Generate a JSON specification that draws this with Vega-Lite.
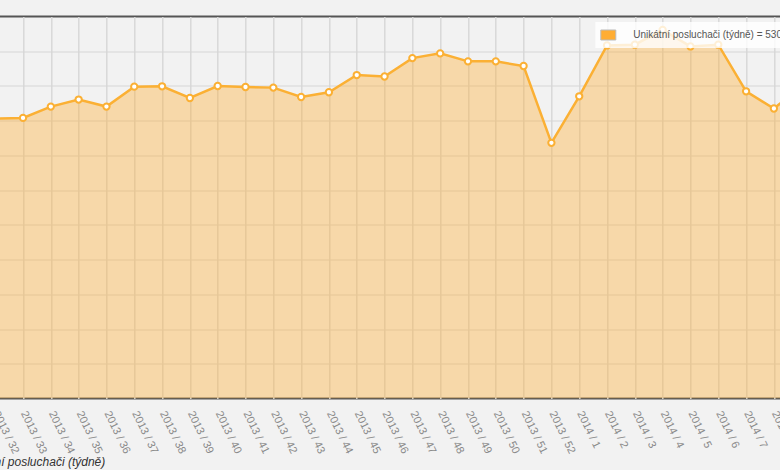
{
  "$schema": "https://vega.github.io/schema/vega-lite/v6.json",
  "autosize": {"type": "none"},
  "width": 834.3,
  "height": 382,
  "padding": {"left": -18.7, "top": 16.5, "right": -35.6, "bottom": 71.5},
  "background": "#f2f2f2",
  "config": {
    "view": {"stroke": "#555555", "strokeWidth": 2, "fill": "#f2f2f2"},
    "font": "Liberation Sans"
  },
  "data": {
    "values": [
      {"week": "2013 / 32", "v": 4028},
      {"week": "2013 / 33", "v": 4040},
      {"week": "2013 / 34", "v": 4203},
      {"week": "2013 / 35", "v": 4304},
      {"week": "2013 / 36", "v": 4203},
      {"week": "2013 / 37", "v": 4490},
      {"week": "2013 / 38", "v": 4495},
      {"week": "2013 / 39", "v": 4327},
      {"week": "2013 / 40", "v": 4499},
      {"week": "2013 / 41", "v": 4485},
      {"week": "2013 / 42", "v": 4476},
      {"week": "2013 / 43", "v": 4341},
      {"week": "2013 / 44", "v": 4409},
      {"week": "2013 / 45", "v": 4657},
      {"week": "2013 / 46", "v": 4636},
      {"week": "2013 / 47", "v": 4901},
      {"week": "2013 / 48", "v": 4969},
      {"week": "2013 / 49", "v": 4854},
      {"week": "2013 / 50", "v": 4854},
      {"week": "2013 / 51", "v": 4787},
      {"week": "2013 / 52", "v": 3681},
      {"week": "2014 / 1", "v": 4351},
      {"week": "2014 / 2", "v": 5083},
      {"week": "2014 / 3", "v": 5094},
      {"week": "2014 / 4", "v": 5306},
      {"week": "2014 / 5", "v": 5069},
      {"week": "2014 / 6", "v": 5094},
      {"week": "2014 / 7", "v": 4423},
      {"week": "2014 / 8", "v": 4175},
      {"week": "2014 / 9", "v": 4500}
    ]
  },
  "encoding": {
    "x": {
      "field": "week",
      "type": "ordinal",
      "sort": null,
      "scale": {"type": "point", "padding": 0.5},
      "axis": {
        "title": "Unikátní posluchači (týdně)",
        "titleAnchor": "start",
        "titleAlign": "left",
        "titleBaseline": "alphabetic",
        "titleX": -21.3,
        "titleY": 67,
        "titleFontStyle": "italic",
        "titleFontWeight": "normal",
        "titleFontSize": 12,
        "titleColor": "#333333",
        "labelAngle": 64,
        "labelAlign": "left",
        "labelBaseline": "middle",
        "labelPadding": 13,
        "labelFontSize": 11,
        "labelColor": "#8a8a8a",
        "labelOverlap": false,
        "ticks": false,
        "domain": false,
        "grid": true,
        "gridColor": "#d8d8d8",
        "gridWidth": 1.5
      }
    },
    "y": {
      "field": "v",
      "type": "quantitative",
      "scale": {"domain": [0, 5500], "nice": false, "zero": true},
      "axis": {
        "title": null,
        "labels": false,
        "ticks": false,
        "domain": false,
        "grid": true,
        "gridColor": "#d6d6d6",
        "gridWidth": 1,
        "values": [500, 1000, 1500, 2000, 2500, 3000, 3500, 4000, 4500, 5000]
      }
    }
  },
  "layer": [
    {
      "mark": {"type": "area", "fillOpacity": 0.38, "clip": true},
      "encoding": {
        "color": {
          "datum": "Unikátní posluchači (týdně) = 5306",
          "type": "nominal",
          "scale": {"range": ["#ffad33"]},
          "legend": {
            "title": null,
            "orient": "none",
            "legendX": 614,
            "legendY": 5.5,
            "padding": 5,
            "fillColor": "rgba(255,255,255,0.8)",
            "strokeColor": null,
            "symbolType": "M-1,-0.667H1V0.667H-1Z",
            "symbolSize": 225,
            "symbolOpacity": 1,
            "symbolFillColor": "#fbb034",
            "symbolStrokeColor": "#bbbbbb",
            "symbolStrokeWidth": 1,
            "labelOffset": 17,
            "labelFontSize": 10,
            "labelColor": "#555555",
            "labelLimit": 400
          }
        }
      }
    },
    {
      "mark": {"type": "line", "color": "#fbb034", "strokeWidth": 2.5, "clip": true}
    },
    {
      "mark": {"type": "point", "filled": true, "fill": "#ffffff", "stroke": "#fbb034", "strokeWidth": 2, "size": 40, "opacity": 1, "clip": true}
    }
  ]
}
